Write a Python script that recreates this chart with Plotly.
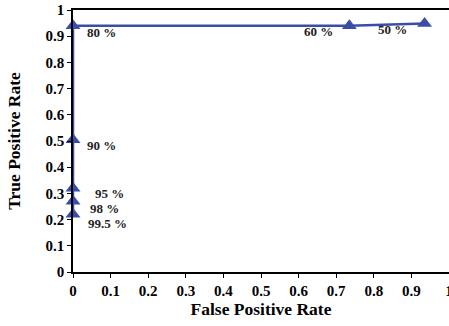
import plotly.graph_objects as go

fpr = [0, 0, 0, 0, 0, 0.735, 0.935]
tpr = [0.22, 0.27, 0.32, 0.505, 0.94, 0.94, 0.948]
labels = ["99.5 %", "98 %", "95 %", "90 %", "80 %", "60 %", "50 %"]
x_ticks = [0, 0.1, 0.2, 0.3, 0.4, 0.5, 0.6, 0.7, 0.8, 0.9, 1]
y_ticks = [0, 0.1, 0.2, 0.3, 0.4, 0.5, 0.6, 0.7, 0.8, 0.9, 1]

# label offsets (pixels): xshift, yshift, xanchor
offsets = [(13, -9, "left"), (15, -7, "left"), (20, -5, "left"), (12, -6, "left"),
           (12, -7, "left"), (-14, -6, "right"), (-16, -6, "right")]

color = "#3a4ea8"
font = "Liberation Serif, Times New Roman, serif"

fig = go.Figure()
fig.add_trace(go.Scatter(
    x=fpr, y=tpr, mode="lines+markers",
    line=dict(color=color, width=2.5),
    marker=dict(symbol="triangle-up", size=13, color=color),
    cliponaxis=False, showlegend=False,
))

for xv, yv, t, (dx, dy, anc) in zip(fpr, tpr, labels, offsets):
    fig.add_annotation(x=xv, y=yv, text="<b>" + t + "</b>", showarrow=False,
                       xanchor=anc, yanchor="middle", xshift=dx, yshift=dy,
                       font=dict(family=font, size=13, color="#222"))

fig.update_layout(
    width=449, height=326,
    margin=dict(l=73, r=0, t=10, b=54),
    paper_bgcolor="white", plot_bgcolor="white",
    font=dict(family=font, color="black"),
)
fig.update_xaxes(
    range=[0, 1], tickvals=x_ticks, ticktext=["<b>%g</b>" % v for v in x_ticks],
    showgrid=False, zeroline=False, showline=True, linecolor="black", linewidth=1.5,
    mirror=True, ticks="outside", ticklen=4, tickcolor="black", automargin=False,
    ticklabeloverflow="allow",
    tickfont=dict(size=15, family=font),
    title=dict(text="<b>False Positive Rate</b>", font=dict(size=17.5, family=font), standoff=2),
)
fig.update_yaxes(
    range=[0, 1], tickvals=y_ticks, ticktext=["<b>%g</b>" % v for v in y_ticks],
    showgrid=False, zeroline=False, showline=True, linecolor="black", linewidth=1.5,
    ticks="outside", ticklen=4, tickcolor="black", automargin=False,
    ticklabeloverflow="allow",
    tickfont=dict(size=15, family=font),
    title=dict(text="<b>True Positive Rate</b>", font=dict(size=17.5, family=font), standoff=20),
)

fig.write_html("out.html", config={"displayModeBar": False},
               post_script="document.body.style.margin='0';document.body.style.overflow='hidden';")
